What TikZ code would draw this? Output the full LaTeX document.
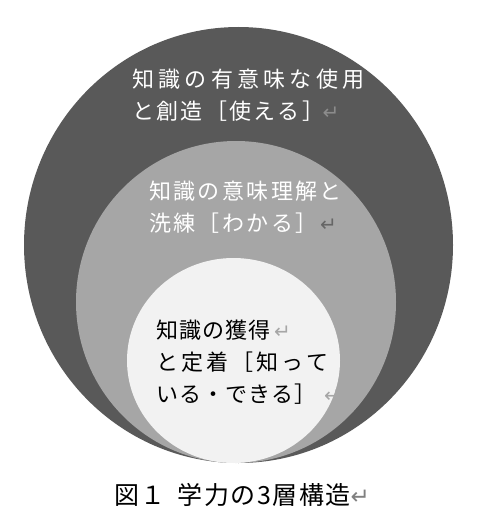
\documentclass[tikz,border=0pt]{standalone}
\usepackage{fontspec}
\setmainfont{Noto Sans CJK JP}
\newfontfamily\markfont{DejaVu Sans}
\usetikzlibrary{positioning}
\definecolor{darkring}{HTML}{595959}
\definecolor{midring}{HTML}{A6A6A6}
\definecolor{coredisc}{HTML}{F2F2F2}
\newcommand{\retmark}[2][20]{{\color{#2}\markfont\fontsize{#1}{#1}\selectfont ↵}}
% set each character in a cell of fixed pitch
\newcommand{\pitched}[2]{\def\cellw{#1}\pitchloop#2\relax}
\def\pitchloop#1{\ifx#1\relax\else\makebox[\cellw][l]{#1}\expandafter\pitchloop\fi}
\newcommand{\spaced}[2]{{\addfontfeature{LetterSpace=#1}#2}}
\tikzset{ringtext/.style={anchor=west,align=left,inner sep=0pt,font=\fontsize{22}{32}\selectfont}}
\tikzset{whitetext/.style={ringtext,text=white}}
\tikzset{blacktext/.style={ringtext,text=black}}

\begin{document}
\begin{tikzpicture}[x=1pt,y=-1pt]
  \useasboundingbox (0,0) rectangle (479,511);
  % three nested layers, touching at the bottom
  \fill[darkring] (238.5,245) ellipse [x radius=214.5,y radius=218];
  \fill[midring] (236,302) ellipse [x radius=160,y radius=161];
  \fill[coredisc] (233.5,360.5) ellipse [x radius=106.5,y radius=102.5];
  \node[whitetext] (use) at (132,95)
    {\pitched{26.3pt}{知識の有意味な使用}\\\pitched{24.3pt}{と創造［使える］}\hspace{-4pt}\retmark{gray!90}};
  \node[whitetext] (grasp) at (149,207.5)
    {\pitched{24.4pt}{知識の意味理解と}\\\pitched{24.4pt}{洗練［わかる］}\retmark{black!60}};
  \node[blacktext] (know) at (156,362)
    {\pitched{23pt}{知識の獲得}\hspace{3pt}\retmark{gray!70}\\\pitched{25pt}{と定着［知って}\\\pitched{23pt}{いる・できる］}\hspace{7pt}\retmark{gray!70}};
  \node[anchor=west,inner sep=0pt,font=\fontsize{25}{25}\selectfont] (caption) at (114,495)
    {\spaced{6}{図１}\hspace{12pt}\spaced{6}{学力の3層構造}\retmark[23]{gray}};
\end{tikzpicture}
\end{document}
